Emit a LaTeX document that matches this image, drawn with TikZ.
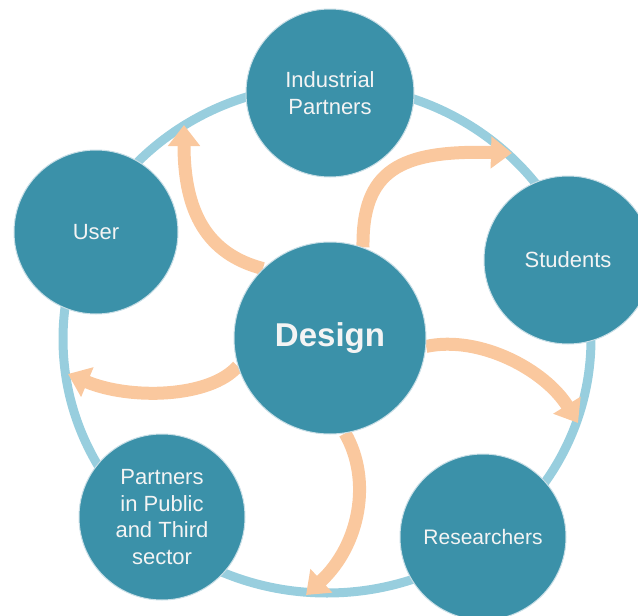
\documentclass[tikz,border=0pt]{standalone}
\usepackage{fontspec}
\setmainfont{Liberation Sans}
\usetikzlibrary{arrows.meta,backgrounds}
\definecolor{tealfill}{RGB}{59,145,169}
\definecolor{ringblue}{RGB}{152,206,222}
\definecolor{arroworange}{RGB}{250,200,158}
\definecolor{edgeblue}{RGB}{200,222,230}
\definecolor{txtwhite}{RGB}{244,244,244}
\tikzset{
  bubble/.style={circle, fill=tealfill, draw=edgeblue, line width=1pt, inner sep=0pt,
    text=txtwhite, align=center, font=\fontsize{22}{26.5}\selectfont},
  flow/.style={draw=arroworange, line width=13pt,
    -{Triangle[width=31pt,length=21pt]}},
  ringline/.style={draw=ringblue, line width=9pt}
}
\begin{document}
\begin{tikzpicture}[x=1pt,y=-1pt]
\useasboundingbox (0,0) rectangle (638,616);
% circles
\node[bubble, minimum size=168pt] (ind) at (330,93) {Industrial\\Partners};
\node[bubble, minimum size=168pt] (stu) at (568,260) {Students};
\node[bubble, minimum size=164pt] (usr) at (96,232) {User};
\node[bubble, minimum size=166pt] (pub) at (162,517) {Partners\\in Public\\and Third\\sector};
\node[bubble, minimum size=166pt, font=\fontsize{21}{25}\selectfont] (res) at (483,537) {Researchers};
\node[bubble, minimum size=192pt, font=\fontsize{33}{40}\selectfont\bfseries] (des) at (330,338) {Design};
% free ends on the ring
\coordinate (e1) at (184,125);
\coordinate (e2) at (512,153);
\coordinate (e3) at (578,423);
\coordinate (e4) at (306,595);
\coordinate (e5) at (68,374);
\begin{scope}[on background layer]
  \draw[ringline] (327,339) ellipse [x radius=264, y radius=254];
  \draw[flow] (des.134) .. controls (207,254) and (184,212) .. (e1);
  \draw[flow] (des.70) .. controls (362,170) and (400,150) .. (e2);
  \draw[flow] (des.-5) .. controls (480,335) and (545,370) .. (e3);
  \draw[flow] (des.-81) .. controls (372,480) and (360,545) .. (e4);
  \draw[flow] (des.197) .. controls (210,398) and (130,400) .. (e5);
\end{scope}
\end{tikzpicture}
\end{document}
